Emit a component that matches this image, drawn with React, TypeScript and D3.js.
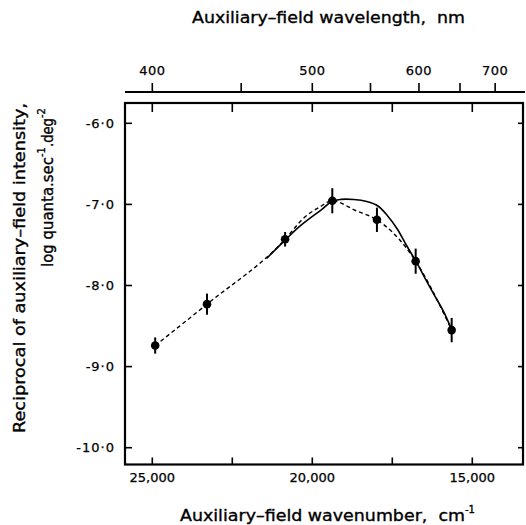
import React from "react";
import * as d3 from "d3";

// Data points (wavenumber cm^-1, log reciprocal intensity, error half-width)
const pointWavenumbers = [24910, 23290, 20850, 19375, 17980, 16770, 15645];
const pointValues = [-8.74, -8.23, -7.43, -6.955, -7.19, -7.70, -8.55];
const pointErrors = [0.1, 0.13, 0.09, 0.155, 0.15, 0.155, 0.15];

// Dashed (hand-drawn) curve through the points
const dashedWavenumbers = [24910, 23290, 20850, 20281, 19759, 19375, 18650, 17980, 17050, 16770, 15645];
const dashedValues = [-8.74, -8.23, -7.43, -7.173, -7.03, -6.955, -7.075, -7.19, -7.543, -7.70, -8.55];

// Solid (theoretical) curve
const curveWavenumbers = [21430, 20850, 20380, 19700, 19380, 19100, 18700, 18300, 17950, 17650, 17350, 17050, 16750, 16450, 16200, 15900, 15640];
const curveValues = [-7.667, -7.44, -7.265, -7.06, -6.96, -6.938, -6.94, -6.965, -7.02, -7.14, -7.30, -7.51, -7.71, -7.93, -8.11, -8.32, -8.55];

// Axes
const bottomTicks = [25000, 22500, 20000, 17500, 15000];
const bottomLabels = ["25,000", "", "20,000", "", "15,000"];
const leftTicks = [-6, -7, -8, -9, -10];
const leftLabels = ["-6·0", "-7·0", "-8·0", "-9·0", "-10·0"];
const topWavelengths = [400, 450, 500, 550, 600, 650, 700];
const topLabels = ["400", "", "500", "", "600", "", "700"];

const FONT = "'DejaVu Sans', sans-serif";
const TXT = { fill: "#000", stroke: "#000", strokeWidth: 0.35 };

export default function App() {
  const x = d3.scaleLinear().domain([25000, 15000]).range([152.3, 472.3]);
  const y = d3.scaleLinear().domain([-6, -10]).range([123.3, 447.7]);

  const left = 125, right = 523, top = 103, bottom = 464.5;
  const topAxisY = 92;

  const solid = d3
    .line<number>()
    .x((_, i) => x(curveWavenumbers[i]))
    .y((_, i) => y(curveValues[i]))
    .curve(d3.curveCatmullRom.alpha(0.5))(curveValues.map((_, i) => i));

  const dashed = d3
    .line<number>()
    .x((_, i) => x(dashedWavenumbers[i]))
    .y((_, i) => y(dashedValues[i]))
    .curve(d3.curveMonotoneX)(dashedValues.map((_, i) => i));

  return (
    <svg
      width={526}
      height={525}
      style={{ position: "absolute", left: 0, top: 0, background: "#fff" }}
      fontFamily={FONT}
    >
      <rect x={0} y={0} width={526} height={525} fill="#fff" />
      {/* Top title */}
      <text x={192} y={23} fontSize={15.5} textLength={273} lengthAdjust="spacingAndGlyphs" {...TXT}>
        Auxiliary–field wavelength,&#160; nm
      </text>
      {/* Top axis */}
      <line x1={left} x2={525} y1={topAxisY} y2={topAxisY} stroke="#000" strokeWidth={2} />
      {topWavelengths.map((w, i) => (
        <g key={w}>
          <line x1={x(1e7 / w)} x2={x(1e7 / w)} y1={topAxisY} y2={topAxisY - 9} stroke="#000" strokeWidth={1.6} />
          {topLabels[i] && (
            <text x={x(1e7 / w)} y={75} fontSize={13} textAnchor="middle" letterSpacing={0.5} {...TXT} strokeWidth={0.25}>
              {topLabels[i]}
            </text>
          )}
        </g>
      ))}
      {/* Frame */}
      <rect x={left} y={top} width={right - left} height={bottom - top} fill="none" stroke="#000" strokeWidth={2.2} />
      {bottomTicks.map((t, i) => (
        <g key={t}>
          <line x1={x(t)} x2={x(t)} y1={bottom} y2={bottom - 7} stroke="#000" strokeWidth={1.6} />
          <line x1={x(t)} x2={x(t)} y1={top} y2={top + 9} stroke="#000" strokeWidth={1.6} />
          {bottomLabels[i] && (
            <text x={x(t)} y={482} fontSize={13} textAnchor="middle" {...TXT} strokeWidth={0.25}>
              {bottomLabels[i]}
            </text>
          )}
        </g>
      ))}
      {leftTicks.map((t, i) => (
        <g key={t}>
          <line x1={left} x2={left + 7} y1={y(t)} y2={y(t)} stroke="#000" strokeWidth={1.6} />
          <line x1={right} x2={right - 5} y1={y(t)} y2={y(t)} stroke="#000" strokeWidth={1.6} />
          <text x={115} y={y(t) + 4.5} fontSize={13} textAnchor="end" letterSpacing={1} {...TXT} strokeWidth={0.25}>
            {leftLabels[i]}
          </text>
        </g>
      ))}
      {/* Bottom title */}
      <text x={180} y={521} fontSize={15.5} {...TXT}>
        <tspan textLength={285} lengthAdjust="spacingAndGlyphs">Auxiliary–field wavenumber,&#160; cm</tspan>
        <tspan fontSize={10} dy={-8}>-1</tspan>
      </text>
      {/* Y title */}
      <text transform="translate(25,433) rotate(-90)" fontSize={15.5} textLength={330} lengthAdjust="spacingAndGlyphs" {...TXT}>
        Reciprocal of auxiliary–field intensity,
      </text>
      <text transform="translate(53,267) rotate(-90)" fontSize={15.5} {...TXT}>
        <tspan textLength={110} lengthAdjust="spacingAndGlyphs">log quanta.sec</tspan>
        <tspan fontSize={10} dy={-8}>-1</tspan>
        <tspan dy={8} textLength={29} lengthAdjust="spacingAndGlyphs">.deg</tspan>
        <tspan fontSize={10} dy={-8}>-2</tspan>
      </text>
      {/* Curves */}
      <path d={dashed ?? ""} fill="none" stroke="#000" strokeWidth={1.4} strokeDasharray="4,3" />
      <path d={solid ?? ""} fill="none" stroke="#000" strokeWidth={1.6} />
      {/* Points */}
      {pointValues.map((v, i) => (
        <g key={i}>
          <line
            x1={x(pointWavenumbers[i])}
            x2={x(pointWavenumbers[i])}
            y1={y(v + pointErrors[i])}
            y2={y(v - pointErrors[i])}
            stroke="#000"
            strokeWidth={2}
          />
          <circle cx={x(pointWavenumbers[i])} cy={y(v)} r={4.3} fill="#000" />
        </g>
      ))}
    </svg>
  );
}
